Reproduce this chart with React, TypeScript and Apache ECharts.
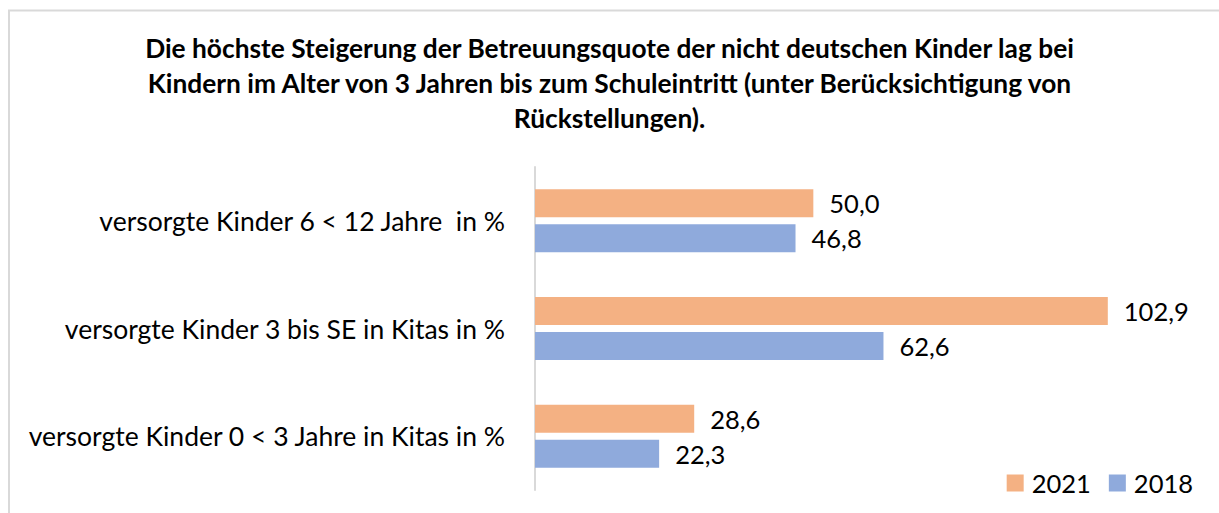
import React, { useEffect, useRef } from "react";
import * as echarts from "echarts";

const titleLines = [
  "Die höchste Steigerung der Betreuungsquote der nicht deutschen Kinder lag bei",
  "Kindern im Alter von 3 Jahren bis zum Schuleintritt (unter Berücksichtigung von",
  "Rückstellungen).",
];
const categories = [
  "versorgte Kinder 0 < 3 Jahre in Kitas in %",
  "versorgte Kinder 3 bis SE in Kitas in %",
  "versorgte Kinder 6 < 12 Jahre  in %",
];
const values2021 = [28.6, 102.9, 50.0];
const values2018 = [22.3, 62.6, 46.8];
const FONT = "Lato";

export default function App() {
  const ref = useRef<HTMLDivElement>(null);
  useEffect(() => {
    if (!ref.current) return;
    const chart = echarts.init(ref.current, undefined, { renderer: "svg" });
    const label = {
      show: true,
      position: "right" as const,
      distance: 16,
      color: "#000",
      fontFamily: FONT,
      fontSize: 25.5,
      formatter: (p: any) => p.value.toFixed(1).replace(".", ","),
    };
    chart.setOption({
      animation: false,
      backgroundColor: "#fff",
      title: {
        text: titleLines.join("\n"),
        left: "center",
        top: 25,
        textStyle: {
          fontFamily: FONT,
          fontWeight: "bold",
          fontSize: 26.3,
          lineHeight: 35,
          color: "#000",
        },
      },
      graphic: [
        {
          type: "rect",
          shape: { x: 9, y: 10.5, width: 1230, height: 530 },
          style: { fill: "none", stroke: "#d9d9d9", lineWidth: 2 },
          silent: true,
        },
      ],
      legend: {
        data: ["2021", "2018"],
        right: 21,
        top: 465,
        itemWidth: 17,
        itemHeight: 17,
        itemGap: 18,
        icon: "rect",
        textStyle: { fontFamily: FONT, fontSize: 25.5, color: "#000", padding: [0, 0, 0, 3] },
      },
      grid: { left: 535, top: 167, width: 668, height: 323, containLabel: false },
      xAxis: {
        type: "value",
        min: 0,
        max: 120,
        show: false,
      },
      yAxis: {
        type: "category",
        data: categories,
        axisLine: { show: true, lineStyle: { color: "#d9d9d9", width: 2 } },
        axisTick: { show: false },
        axisLabel: {
          fontFamily: FONT,
          fontSize: 26.5,
          color: "#000",
          margin: 30,
        },
      },
      series: [
        {
          name: "2021",
          type: "bar",
          data: values2021,
          itemStyle: { color: "#F4B183" },
          barWidth: 28,
          barGap: "25%",
          label,
        },
        {
          name: "2018",
          type: "bar",
          data: values2018,
          itemStyle: { color: "#8FAADC" },
          barWidth: 28,
          barGap: "25%",
          label,
        },
      ],
    });
    return () => chart.dispose();
  }, []);
  return (
    <div
      ref={ref}
      style={{ position: "absolute", left: 0, top: 0, width: 1219, height: 513 }}
    />
  );
}
